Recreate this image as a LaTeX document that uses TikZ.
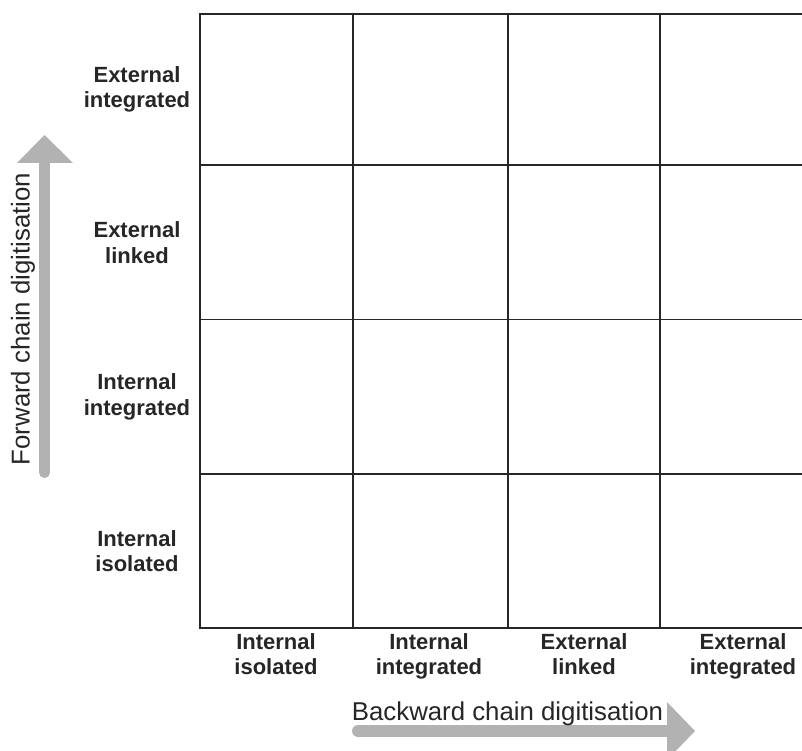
\documentclass[tikz,border=0pt]{standalone}
\usepackage{fontspec}
\setmainfont{Liberation Sans}
\begin{document}
\begin{tikzpicture}[x=1pt,y=-1pt,
  gridline/.style={line width=1.5pt, draw=black!85},
  axislabel/.style={font=\bfseries\fontsize{22}{25.5}\selectfont, align=center, inner sep=0pt, text=black!85},
  axistitle/.style={font=\fontsize{25.8}{30}\selectfont, inner sep=0pt, text=black!85},
  arrowhead/.style={fill=gray!60, draw=none},
  arrowshaft/.style={draw=gray!60, line cap=round}
]
\useasboundingbox (0,0) rectangle (802,751);
\begin{scope}
\clip (0,0) rectangle (802,751);
% grid
\foreach \gx in {200,353,508,660,812}
  \draw[gridline] (\gx,14) -- (\gx,628);
\foreach \gy in {14,165,319.5,474,628}
  \draw[gridline] (199.25,\gy) -- (812,\gy);
% vertical arrow
\coordinate (vbot) at (44.5,472.5);
\coordinate (vbase) at (44.5,163);
\coordinate (vl) at (17,163);
\coordinate (vr) at (73,163);
\coordinate (vtip) at (44.5,135);
\draw[arrowshaft, line width=11pt] (vbot) -- (vbase);
\fill[arrowhead] (vl) -- (vtip) -- (vr) -- cycle;
% horizontal arrow
\coordinate (hleft) at (358,731);
\coordinate (hbase) at (667,731);
\coordinate (ht) at (667,702);
\coordinate (hb) at (667,760);
\coordinate (htip) at (695,731);
\draw[arrowshaft, line width=12pt] (hleft) -- (hbase);
\fill[arrowhead] (ht) -- (htip) -- (hb) -- cycle;
\end{scope}
% row labels
\node[axislabel] (r1) at (137,89.5) {External\\integrated};
\node[axislabel] (r2) at (137,242.5) {External\\linked};
\node[axislabel] (r3) at (137,397) {Internal\\integrated};
\node[axislabel] (r4) at (137,551) {Internal\\isolated};
% column labels
\node[axislabel, anchor=north] (c1) at (276,633) {Internal\\isolated};
\node[axislabel, anchor=north] (c2) at (429,633) {Internal\\integrated};
\node[axislabel, anchor=north] (c3) at (584,633) {External\\linked};
\node[axislabel, anchor=north] (c4) at (743,633) {External\\integrated};
% axis titles
\node[axistitle, rotate=90] (fwd) at (23,319) {Forward chain digitisation};
\node[axistitle, anchor=base] (bwd) at (507.5,720) {Backward chain digitisation};
\end{tikzpicture}
\end{document}
